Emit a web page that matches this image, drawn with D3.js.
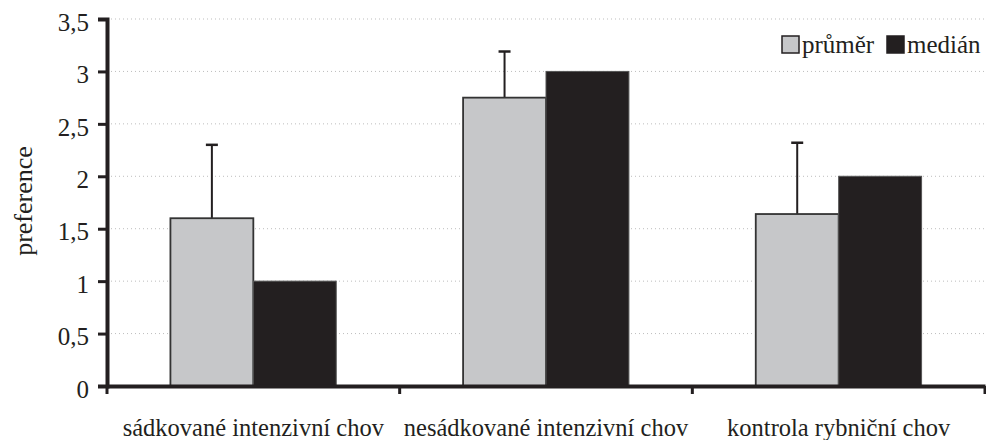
<!DOCTYPE html>
<html><head><meta charset="utf-8">
<script src="https://cdn.jsdelivr.net/npm/d3@7"></script>
<style>body{margin:0;background:#fff}svg{display:block}svg text{font-family:"Liberation Serif","Times New Roman",Times,serif !important;fill:#231f20}</style>
</head><body><svg id="c" width="986" height="440"></svg>
<script>
const categories = ["sádkované intenzivní chov", "nesádkované intenzivní chov", "kontrola rybniční chov"];
const seriesNames = ["průměr", "medián"];
const meanValues = [1.60, 2.75, 1.64];
const meanErrorTop = [2.30, 3.19, 2.32];
const medianValues = [1, 3, 2];
const yTicks = [0, 0.5, 1, 1.5, 2, 2.5, 3, 3.5];
const yTickLabels = ["0", "0,5", "1", "1,5", "2", "2,5", "3", "3,5"];

const svg = d3.select("#c");
const m = {l:107, r:985, t:19, b:386};
const x = d3.scaleBand().domain(categories).range([m.l, m.r]).paddingInner(0).paddingOuter(0);
const y = d3.scaleLinear().domain([0, 3.5]).range([m.b, m.t]);
const inner = d3.scaleBand().domain(seriesNames).range([0, x.bandwidth()]).paddingInner(0).paddingOuter(0.765);
const ink = "#231f20";
const serif = '"Liberation Serif","Times New Roman",Times,serif';

// gridlines
svg.append("g").selectAll("line").data(yTicks.slice(1)).join("line")
  .attr("x1", m.l).attr("x2", m.r).attr("y1", d=>y(d)).attr("y2", d=>y(d))
  .attr("stroke", "#bdbdbd").attr("stroke-width", 1).attr("stroke-dasharray", "1,3");

const data = categories.map((c,i)=>({c, mean:meanValues[i], err:meanErrorTop[i], med:medianValues[i]}));

// error bars
const eb = svg.append("g");
data.forEach(d=>{
  const cx = x(d.c) + inner("průměr") + inner.bandwidth()/2;
  eb.append("line").attr("x1",cx).attr("x2",cx).attr("y1",y(d.mean)).attr("y2",y(d.err)).attr("stroke",ink).attr("stroke-width",2);
  eb.append("line").attr("x1",cx-6).attr("x2",cx+6).attr("y1",y(d.err)).attr("y2",y(d.err)).attr("stroke",ink).attr("stroke-width",2.5);
});

// bars
const bars = svg.append("g");
data.forEach(d=>{
  bars.append("rect").attr("x", x(d.c)+inner("průměr")).attr("y", y(d.mean))
    .attr("width", inner.bandwidth()).attr("height", y(0)-y(d.mean))
    .attr("fill", "#c6c7c9").attr("stroke", "#333").attr("stroke-width", 1.8);
  bars.append("rect").attr("x", x(d.c)+inner("medián")).attr("y", y(d.med))
    .attr("width", inner.bandwidth()).attr("height", y(0)-y(d.med))
    .attr("fill", ink).attr("stroke", "#555").attr("stroke-width", 1);
});

// y axis
const ya = svg.append("g").attr("transform", `translate(${m.l},0)`)
  .call(d3.axisLeft(y).tickValues(yTicks).tickFormat((d,i)=>yTickLabels[i]).tickSize(9).tickPadding(9));
ya.attr("font-family", serif);
ya.select(".domain").attr("stroke", ink).attr("stroke-width", 4);
ya.selectAll(".tick line").attr("stroke", ink).attr("stroke-width", 3);
ya.selectAll(".tick text").attr("font-size", 25).attr("fill", ink).attr("dy", "0.45em");

// x axis
const xa = svg.append("g").attr("transform", `translate(0,${m.b})`)
  .call(d3.axisBottom(x).tickSize(0).tickPadding(0).tickFormat(""));
xa.select(".domain").attr("stroke", ink).attr("stroke-width", 4);
xa.selectAll(".tick").remove();
const bounds = [m.l, ...categories.map(c=>x(c)+x.bandwidth())];
xa.selectAll("line.sep").data(bounds).join("line").attr("class","sep")
  .attr("x1", d=>d).attr("x2", d=>d).attr("y1", 0).attr("y2", 8).attr("stroke", ink).attr("stroke-width", 3);
svg.append("g").attr("font-family", serif).selectAll("text").data(categories).join("text")
  .attr("x", d=>x(d)+x.bandwidth()/2).attr("y", 436).attr("text-anchor","middle")
  .attr("font-size", 24.5).text(d=>d);

// y label
svg.append("text").attr("font-family", serif).attr("transform","translate(32,201) rotate(-90)").attr("text-anchor","middle")
  .attr("font-size", 26).text("preference");

// legend
const lg = svg.append("g").attr("font-family", serif);
const legendItems = [{n:seriesNames[0], fill:"#c6c7c9", x:782}, {n:seriesNames[1], fill:ink, x:887}];
legendItems.forEach(it=>{
  lg.append("rect").attr("x", it.x).attr("y", 36).attr("width", 17).attr("height", 17).attr("fill", it.fill).attr("stroke", ink).attr("stroke-width", 1.5);
  lg.append("text").attr("x", it.x+20).attr("y", 53).attr("font-size", 25).text(it.n);
});
</script></body></html>
